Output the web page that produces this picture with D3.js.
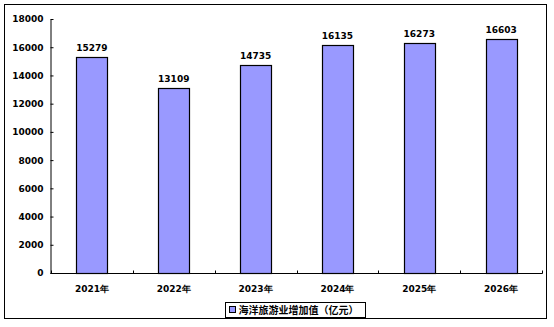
<!DOCTYPE html>
<html>
<head>
<meta charset="utf-8">
<script src="https://cdn.jsdelivr.net/npm/d3@7"></script>
<style>
  body { margin: 0; background: #fff; }
  text { font-family: 'DejaVu Sans', Verdana, sans-serif; font-weight: bold; }
</style>
</head>
<body>
<script>
// data
let years = ['2021年', '2022年', '2023年', '2024年', '2025年', '2026年'];
let values = [15279, 13109, 14735, 16135, 16273, 16603];
let yTicks = [0, 2000, 4000, 6000, 8000, 10000, 12000, 14000, 16000, 18000];
let seriesName = '海洋旅游业增加值（亿元）';

let W = 554, H = 327;
let svg = d3.select('body').append('svg')
  .attr('width', W).attr('height', H);

// outer frame
svg.append('rect')
  .attr('x', 4.5).attr('y', 4.5)
  .attr('width', 542).attr('height', 314)
  .attr('fill', 'none').attr('stroke', '#000').attr('stroke-width', 1);

let plotL = 51, plotR = 542, plotT = 19, plotB = 273;

let x = d3.scaleBand().domain(years).range([plotL, plotR]).paddingInner(0).paddingOuter(0);
let y = d3.scaleLinear().domain([0, 18000]).range([plotB, plotT]);

// bars
let bw = x.bandwidth() * 0.38;
svg.selectAll('rect.bar')
  .data(values)
  .enter()
    .append('rect')
    .attr('class', 'bar')
    .attr('x', (d, i) => Math.round(x(years[i]) + x.bandwidth() / 2 - bw / 2) + 0.5)
    .attr('y', d => Math.round(y(d)) + 0.5)
    .attr('width', Math.round(bw))
    .attr('height', d => plotB - Math.round(y(d)))
    .attr('fill', '#9999FF')
    .attr('stroke', '#000')
    .attr('stroke-width', 1.2);

// value labels
svg.selectAll('text.val')
  .data(values)
  .enter()
    .append('text')
    .attr('class', 'val')
    .attr('x', (d, i) => x(years[i]) + x.bandwidth() / 2)
    .attr('y', d => y(d) - 6)
    .attr('text-anchor', 'middle')
    .attr('font-size', '9px')
    .text(d => d);

// y axis
let yAxis = svg.append('g')
  .attr('transform', 'translate(' + (plotL - 0.5) + ',0)')
  .call(d3.axisLeft(y).tickValues(yTicks).tickFormat(d3.format('d'))
    .tickSizeInner(-3).tickSizeOuter(0).tickPadding(7));
yAxis.select('.domain').attr('stroke', '#000');
yAxis.selectAll('text').attr('font-size', '9px').attr('fill', '#000')
  .style('font-family', "'DejaVu Sans', Verdana, sans-serif").style('font-weight', 'bold');

// x axis line with inner ticks at category boundaries
let xg = svg.append('g').attr('transform', 'translate(0,' + (plotB + 0.5) + ')');
xg.append('line')
  .attr('x1', plotL - 0.5).attr('x2', plotR + 0.5)
  .attr('stroke', '#000');
let bounds = years.map(d => x(d)).concat([plotR]);
xg.selectAll('line.tk')
  .data(bounds)
  .enter()
    .append('line')
    .attr('class', 'tk')
    .attr('x1', d => Math.round(d) + 0.5).attr('x2', d => Math.round(d) + 0.5)
    .attr('y1', 0).attr('y2', -3)
    .attr('stroke', '#000');
xg.selectAll('text')
  .data(years)
  .enter()
    .append('text')
    .attr('x', d => x(d) + x.bandwidth() / 2)
    .attr('y', 18)
    .attr('text-anchor', 'middle')
    .attr('font-size', '9px')
    .text(d => d);

// legend
let lg = svg.append('g').attr('transform', 'translate(225.5,302.5)');
lg.append('rect')
  .attr('width', 140).attr('height', 15)
  .attr('fill', '#fff').attr('stroke', '#000');
lg.append('rect')
  .attr('x', 4).attr('y', 4).attr('width', 6).attr('height', 6)
  .attr('fill', '#9999FF').attr('stroke', '#000');
lg.append('text')
  .attr('x', 13).attr('y', 11.5)
  .attr('font-size', '10px')
  .style('font-family', "'Noto Sans CJK SC', sans-serif")
  .style('font-weight', 'bold')
  .text(seriesName);
</script>
</body>
</html>
